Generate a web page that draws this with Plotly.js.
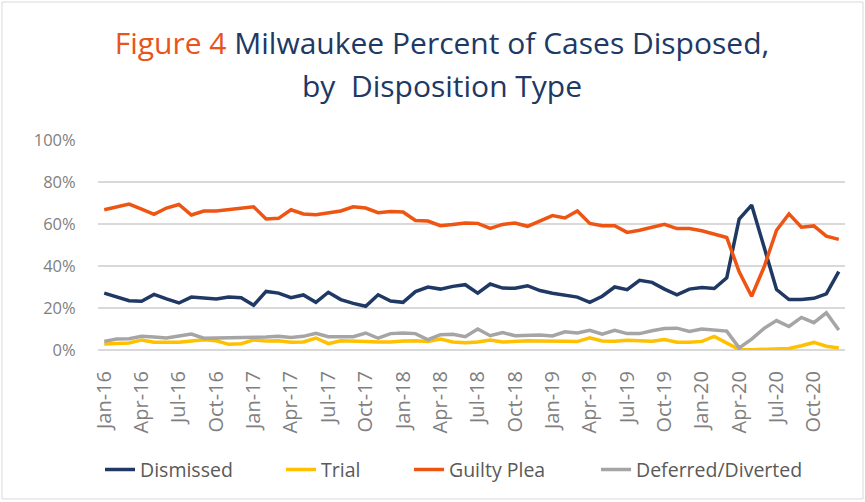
<!DOCTYPE html>
<html>
<head>
<meta charset="utf-8">
<script src="https://cdn.plot.ly/plotly-3.0.1.min.js"></script>
<style>
  html, body { margin: 0; padding: 0; background: #fff; }
  #chart { width: 865px; height: 502px; }
</style>
</head>
<body>
<div id="chart"></div>
<script>
const months = [
  "Jan-16","Feb-16","Mar-16","Apr-16","May-16","Jun-16","Jul-16","Aug-16","Sep-16","Oct-16","Nov-16","Dec-16",
  "Jan-17","Feb-17","Mar-17","Apr-17","May-17","Jun-17","Jul-17","Aug-17","Sep-17","Oct-17","Nov-17","Dec-17",
  "Jan-18","Feb-18","Mar-18","Apr-18","May-18","Jun-18","Jul-18","Aug-18","Sep-18","Oct-18","Nov-18","Dec-18",
  "Jan-19","Feb-19","Mar-19","Apr-19","May-19","Jun-19","Jul-19","Aug-19","Sep-19","Oct-19","Nov-19","Dec-19",
  "Jan-20","Feb-20","Mar-20","Apr-20","May-20","Jun-20","Jul-20","Aug-20","Sep-20","Oct-20","Nov-20","Dec-20"
];
const tickLabels = [
  "Jan-16","Apr-16","Jul-16","Oct-16","Jan-17","Apr-17","Jul-17","Oct-17","Jan-18","Apr-18",
  "Jul-18","Oct-18","Jan-19","Apr-19","Jul-19","Oct-19","Jan-20","Apr-20","Jul-20","Oct-20"
];
const dismissed = [
  27.1,25.1,23.5,23.2,26.5,24.3,22.4,25.2,24.6,24.3,25.2,24.9,
  21.3,27.9,27.1,24.9,26.2,22.7,27.5,24.0,22.2,20.8,26.3,23.3,
  22.7,27.8,30.0,29.0,30.3,31.1,27.1,31.4,29.5,29.4,30.6,28.3,
  27.0,26.0,25.2,22.7,25.6,30.0,28.7,33.2,32.2,29.0,26.3,29.0,
  29.8,29.3,34.4,62.3,69.0,49.0,28.8,24.0,24.0,24.6,26.7,37.3
];
const trial = [
  2.9,2.9,3.3,4.8,3.7,3.7,3.7,4.3,4.9,4.4,2.7,3.0,
  4.8,4.3,4.4,3.7,3.8,5.7,3.0,4.4,4.4,4.1,3.8,3.8,
  4.3,4.4,4.0,5.2,3.8,3.5,3.8,4.8,3.8,4.3,4.4,4.3,
  4.4,4.2,4.0,5.8,4.3,4.2,4.6,4.2,4.2,5.0,3.7,3.7,
  4.1,6.5,3.5,0.2,0.1,0.3,0.4,0.7,2.0,3.6,1.8,1.0
];
const guiltyPlea = [
  66.8,68.0,69.5,67.1,64.6,67.6,69.3,64.3,66.2,66.2,67.0,67.5,
  68.2,62.4,62.7,66.8,64.8,64.4,65.1,66.2,68.2,67.6,65.4,66.0,
  65.7,61.7,61.4,59.2,59.8,60.5,60.3,57.9,59.8,60.5,58.9,61.6,
  64.0,62.9,66.2,60.3,59.2,59.2,56.0,57.0,58.3,59.8,57.8,57.8,
  56.8,55.3,53.6,37.2,25.6,39.5,57.0,64.8,58.5,59.1,54.2,52.7
];
const deferred = [
  4.1,5.2,5.4,6.5,6.2,5.7,6.7,7.6,5.6,5.7,5.7,5.7,
  6.0,6.2,6.5,6.0,6.5,7.9,6.3,6.5,6.3,8.1,5.6,7.8,
  8.1,7.8,4.9,7.3,7.5,6.3,10.0,6.8,8.3,6.8,7.1,7.1,
  6.7,8.7,8.1,9.4,7.5,9.4,7.8,7.8,9.2,10.2,10.4,8.8,
  10.0,9.7,9.0,1.0,5.2,10.3,14.0,11.2,15.5,13.0,17.7,9.5
];
const seriesNames = ["Dismissed","Trial","Guilty Plea","Deferred/Diverted"];
const seriesColors = ["#1F3864","#FFC000","#EE5412","#A5A5A5"];
const seriesValues = [dismissed, trial, guiltyPlea, deferred];
const legendIds = ["legend", "legend2", "legend3", "legend4"];
const legendX = [0.0027, 0.245, 0.4163, 0.6667];

const traces = seriesNames.map((name, k) => ({
  type: "scatter",
  mode: "lines",
  name: name,
  legend: legendIds[k],
  x: months,
  y: seriesValues[k],
  line: { color: seriesColors[k], width: 3.5 },
  hoverinfo: "x+y+name"
}));

const font = "'Open Sans', 'Noto Sans', sans-serif";
const fs = "font-size:30px";
const layout = {
  width: 865,
  height: 502,
  margin: { l: 98, r: 20, t: 140, b: 152 },
  paper_bgcolor: "#ffffff",
  plot_bgcolor: "#ffffff",
  font: { family: font, color: "#7F7F7F", size: 16 },
  title: {
    text: "<span style='color:#E9541A;" + fs + "'>Figure 4</span><span style='" + fs + "'> Milwaukee Percent of Cases Disposed,</span><br><span style='" + fs + "'>by  Disposition Type</span>",
    font: { family: font, size: 33, color: "#203864" },
    x: 0.511, xanchor: "center",
    y: 0.893, yanchor: "top",
    xref: "container", yref: "container"
  },
  xaxis: {
    type: "category",
    categoryorder: "array",
    categoryarray: months,
    range: [-0.5, 59.5],
    tickmode: "array",
    tickvals: tickLabels,
    ticktext: tickLabels,
    tickangle: -90,
    tickfont: { family: font, size: 20, color: "#7F7F7F" },
    showgrid: false,
    zeroline: false,
    showline: false,
    ticks: "outside",
    ticklen: 12,
    tickcolor: "rgba(0,0,0,0)",
    fixedrange: true
  },
  yaxis: {
    range: [0, 100],
    tickvals: [0, 20, 40, 60, 80, 100],
    ticktext: ["0%", "20%", "40%", "60%", "80%", "100%"],
    tickfont: { family: font, size: 16.5, color: "#7F7F7F" },
    showgrid: true,
    gridcolor: "#D9D9D9",
    gridwidth: 1.5,
    zeroline: true,
    zerolinecolor: "#D9D9D9",
    zerolinewidth: 1.5,
    showline: false,
    ticks: "outside",
    ticklen: 18,
    tickcolor: "rgba(0,0,0,0)",
    fixedrange: true
  },
  shapes: [{
    type: "rect",
    xref: "paper", yref: "paper",
    x0: -96 / 747, x1: 765 / 747,
    y0: -149 / 210, y1: 348 / 210,
    line: { color: "#D9D9D9", width: 1 },
    fillcolor: "rgba(0,0,0,0)"
  }],
  showlegend: true
};

legendIds.forEach((id, k) => {
  layout[id] = {
    orientation: "h",
    x: legendX[k], xanchor: "left",
    y: -0.571, yanchor: "middle",
    font: { family: font, size: 19.5, color: "#595959" },
    itemwidth: 30,
    bgcolor: "rgba(0,0,0,0)"
  };
});

Plotly.newPlot("chart", traces, layout, { displayModeBar: false });
</script>
</body>
</html>
